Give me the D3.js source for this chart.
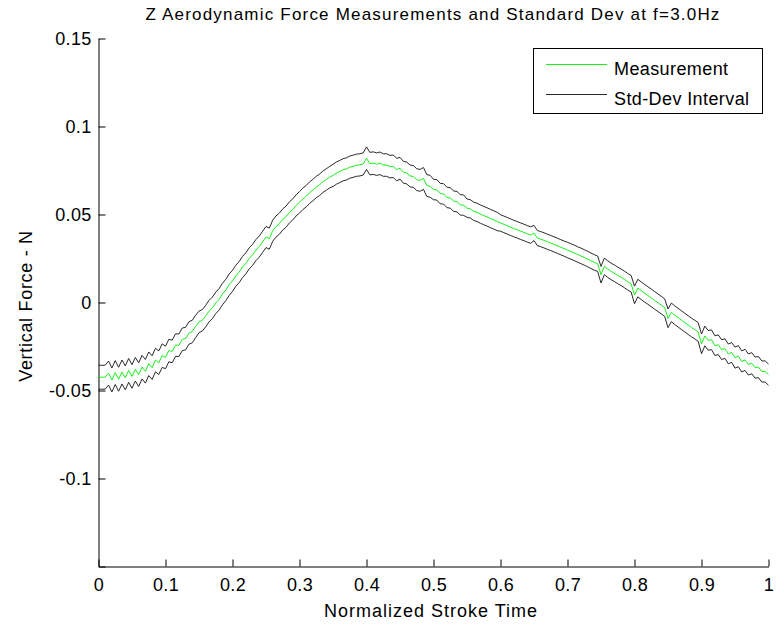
<!DOCTYPE html>
<html>
<head>
<meta charset="utf-8">
<script src="https://cdn.jsdelivr.net/npm/d3@7"></script>
<style>
  body { margin: 0; background: #fff; }
  svg { display: block; font-family: "Liberation Sans", Arial, sans-serif; }
</style>
</head>
<body>
<svg id="chart"></svg>
<script>
// sample times, every 0.005 of the stroke
const strokeTime = d3.range(201).map(i => i * 0.005);

// mean vertical force (N)
const measurement = [
  -0.0424, -0.0425, -0.0424, -0.0401, -0.0440, -0.0398, -0.0436, -0.0395, -0.0428, -0.0386,
  -0.0420, -0.0379, -0.0410, -0.0367, -0.0391, -0.0348, -0.0370, -0.0327, -0.0342, -0.0302,
  -0.0312, -0.0273, -0.0278, -0.0242, -0.0243, -0.0209, -0.0205, -0.0173, -0.0165, -0.0136,
  -0.0110, -0.0101, -0.0077, -0.0049, -0.0030, -0.0002, 0.0018, 0.0048, 0.0071, 0.0101,
  0.0123, 0.0152, 0.0173, 0.0202, 0.0223, 0.0251, 0.0271, 0.0298, 0.0318, 0.0345,
  0.0372, 0.0363, 0.0408, 0.0432, 0.0448, 0.0472, 0.0488, 0.0512, 0.0529, 0.0552,
  0.0569, 0.0589, 0.0604, 0.0624, 0.0639, 0.0656, 0.0669, 0.0686, 0.0699, 0.0712,
  0.0722, 0.0735, 0.0744, 0.0754, 0.0759, 0.0769, 0.0774, 0.0780, 0.0782, 0.0787,
  0.0820, 0.0789, 0.0792, 0.0786, 0.0791, 0.0781, 0.0781, 0.0772, 0.0774, 0.0755,
  0.0763, 0.0740, 0.0736, 0.0719, 0.0716, 0.0698, 0.0694, 0.0705, 0.0665, 0.0660,
  0.0642, 0.0640, 0.0619, 0.0617, 0.0597, 0.0594, 0.0576, 0.0573, 0.0555, 0.0553,
  0.0536, 0.0532, 0.0518, 0.0512, 0.0502, 0.0494, 0.0486, 0.0477, 0.0469, 0.0460,
  0.0452, 0.0444, 0.0436, 0.0428, 0.0420, 0.0413, 0.0405, 0.0398, 0.0390, 0.0383,
  0.0395, 0.0366, 0.0360, 0.0353, 0.0345, 0.0338, 0.0330, 0.0322, 0.0314, 0.0306,
  0.0298, 0.0290, 0.0282, 0.0273, 0.0265, 0.0256, 0.0247, 0.0237, 0.0228, 0.0220,
  0.0158, 0.0205, 0.0190, 0.0177, 0.0166, 0.0154, 0.0143, 0.0131, 0.0118, 0.0106,
  0.0043, 0.0082, 0.0067, 0.0053, 0.0040, 0.0026, 0.0012, -0.0001, -0.0015, -0.0029,
  -0.0090, -0.0056, -0.0072, -0.0086, -0.0100, -0.0114, -0.0128, -0.0142, -0.0154, -0.0167,
  -0.0235, -0.0190, -0.0215, -0.0212, -0.0245, -0.0240, -0.0268, -0.0262, -0.0292, -0.0284,
  -0.0313, -0.0305, -0.0335, -0.0326, -0.0352, -0.0345, -0.0370, -0.0367, -0.0392, -0.0392,
  -0.0410
];

// standard deviation, one value per 0.05 of stroke time
const stdDev = [
  0.0068, 0.0067, 0.0064, 0.0061, 0.0060, 0.0060, 0.0061, 0.0063, 0.0064, 0.0062,
  0.0058, 0.0052, 0.0047, 0.0043, 0.0044, 0.0047, 0.0050, 0.0053, 0.0056, 0.0060
];

const xTicks = [0, 0.1, 0.2, 0.3, 0.4, 0.5, 0.6, 0.7, 0.8, 0.9, 1];
const yTicks = [0.15, 0.1, 0.05, 0, -0.05, -0.1, -0.15];
const yTickLabels = ["0.15", "0.1", "0.05", "0", "-0.05", "-0.1", ""];
const legendLabels = ["Measurement", "Std-Dev Interval"];

const width = 776;
const height = 626;
const margin = ({ top: 38.5, right: 7.5, bottom: 59.5, left: 98.5 });

const sdAt = i => stdDev[Math.min(stdDev.length - 1, Math.floor(i / 10))];

const points = measurement.map((v, i) => ({
  t: strokeTime[i],
  mean: v,
  upper: v + sdAt(i),
  lower: v - sdAt(i)
}));

// scales
let xScale = d3.scaleLinear()
  .domain([0, 1])
  .range([margin.left, width - margin.right]);

let yScale = d3.scaleLinear()
  .domain([-0.15, 0.15])
  .range([height - margin.bottom, margin.top]);

const svg = d3.select("#chart")
  .attr("width", width)
  .attr("height", height)
  .attr("viewBox", [0, 0, width, height]);

// axes, ticks pointing inwards
xAxis = g => g
  .attr("transform", `translate(0,${height - margin.bottom})`)
  .call(d3.axisBottom(xScale).tickValues(xTicks).tickFormat(d3.format("")).tickSizeInner(-7).tickSizeOuter(0).tickPadding(12))
  .call(g => g.selectAll("text").attr("font-size", 18).attr("fill", "#000").attr("letter-spacing", 0.3))
  .call(g => g.selectAll("line, path").attr("stroke", "#000"));

yAxis = g => g
  .attr("transform", `translate(${margin.left},0)`)
  .call(d3.axisLeft(yScale).tickValues(yTicks).tickFormat((d, i) => yTickLabels[i]).tickSizeInner(-7).tickSizeOuter(0).tickPadding(7))
  .call(g => g.selectAll("text").attr("font-size", 18).attr("fill", "#000").attr("letter-spacing", 0.3))
  .call(g => g.selectAll("line, path").attr("stroke", "#000"));

svg.append("g").call(xAxis);
svg.append("g").call(yAxis);

// lines
const line = key => d3.line()
  .x(d => xScale(d.t))
  .y(d => yScale(d[key]));

svg.append("path")
  .datum(points)
  .attr("fill", "none")
  .attr("stroke", "#111")
  .attr("stroke-width", 0.9)
  .attr("d", line("upper"));

svg.append("path")
  .datum(points)
  .attr("fill", "none")
  .attr("stroke", "#111")
  .attr("stroke-width", 0.9)
  .attr("d", line("lower"));

svg.append("path")
  .datum(points)
  .attr("fill", "none")
  .attr("stroke", "#00ee00")
  .attr("stroke-width", 0.9)
  .attr("d", line("mean"));

// titles
svg.append("text")
  .attr("x", 433)
  .attr("y", 20)
  .attr("text-anchor", "middle")
  .attr("font-size", 17)
  .attr("letter-spacing", 1.2)
  .text("Z Aerodynamic Force Measurements and Standard Dev at f=3.0Hz");

svg.append("text")
  .attr("x", 431)
  .attr("y", 617)
  .attr("text-anchor", "middle")
  .attr("font-size", 18)
  .attr("letter-spacing", 1)
  .text("Normalized Stroke Time");

svg.append("text")
  .attr("transform", "translate(32,306) rotate(-90)")
  .attr("text-anchor", "middle")
  .attr("font-size", 18)
  .attr("letter-spacing", 0.7)
  .text("Vertical Force - N");

// legend
const legend = svg.append("g");

legend.append("rect")
  .attr("x", 533.5)
  .attr("y", 48.5)
  .attr("width", 229)
  .attr("height", 65)
  .attr("fill", "#fff")
  .attr("stroke", "#000");

const legendColors = ["#00ee00", "#111"];

legend.selectAll("line")
  .data(legendLabels)
  .enter()
  .append("line")
  .attr("x1", 546)
  .attr("x2", 607)
  .attr("y1", (d, i) => 64.5 + i * 30)
  .attr("y2", (d, i) => 64.5 + i * 30)
  .attr("stroke", (d, i) => legendColors[i])
  .attr("stroke-width", 0.9);

legend.selectAll("text")
  .data(legendLabels)
  .enter()
  .append("text")
  .attr("x", 614)
  .attr("y", (d, i) => 75 + i * 30)
  .attr("font-size", 18)
  .attr("letter-spacing", 0.4)
  .text(d => d);
</script>
</body>
</html>
